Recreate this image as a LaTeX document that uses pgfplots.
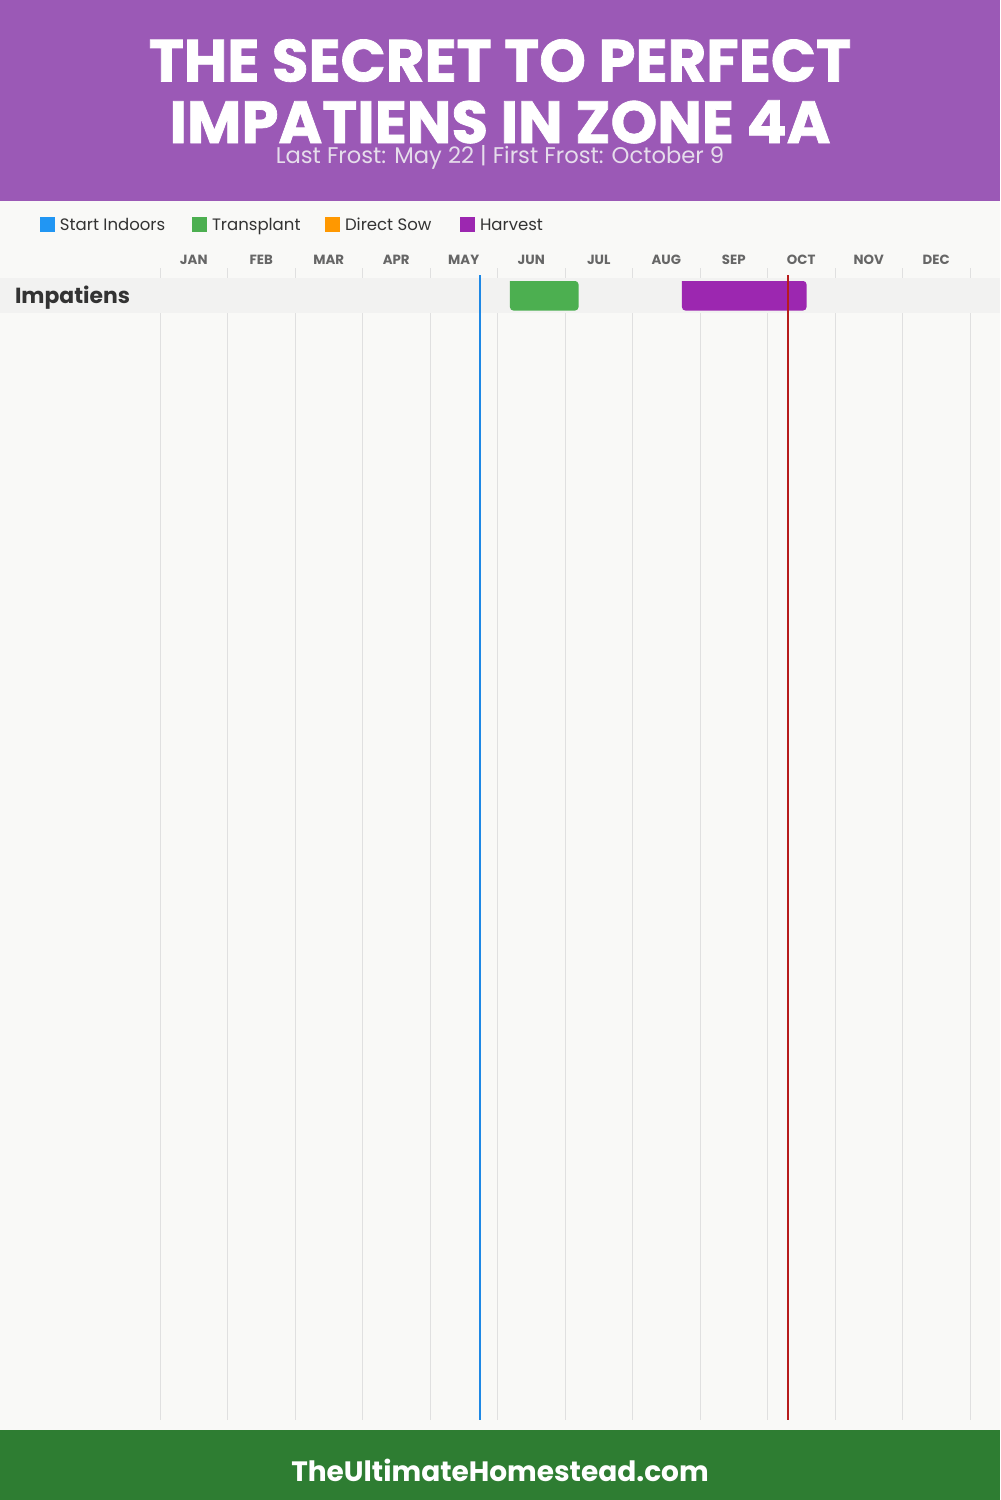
\documentclass[border=0pt]{standalone}
\usepackage{pgfplots}
\pgfplotsset{compat=1.18}
\usepackage{fontspec}
\setmainfont{Poppins}
\newfontfamily\heavy{Poppins}[BoldFeatures={FakeBold=1.2}]
\definecolor{hdr}{HTML}{9B59B6}
\definecolor{ftr}{HTML}{2E7D32}
\definecolor{bgc}{HTML}{F9F9F7}
\definecolor{rowc}{HTML}{F2F2F1}
\definecolor{gridc}{HTML}{E0E0E0}
\definecolor{cstart}{HTML}{2196F3}
\definecolor{ctrans}{HTML}{4CAF50}
\definecolor{csow}{HTML}{FF9800}
\definecolor{charv}{HTML}{9C27B0}
\definecolor{lastf}{HTML}{1E88E5}
\definecolor{firstf}{HTML}{B71C1C}
\definecolor{monthc}{HTML}{666666}
\definecolor{txtc}{HTML}{333333}
\definecolor{subc}{HTML}{E6DDEB}
\tikzset{tx/.style={inner sep=0pt, outer sep=0pt}}
\begin{document}
\begin{tikzpicture}
\begin{axis}[
  scale only axis, width=750pt, height=1125pt,
  xmin=-2.370370, xmax=12.444444, ymin=0, ymax=1500, y dir=reverse,
  axis lines=none, ticks=none, clip=false,
]
% backgrounds
\fill[bgc] (axis cs:-2.370370,0) rectangle (axis cs:12.444444,1500);
\fill[hdr] (axis cs:-2.370370,0) rectangle (axis cs:12.444444,201);
\fill[ftr] (axis cs:-2.370370,1430) rectangle (axis cs:12.444444,1500);
% grid
\pgfplotsinvokeforeach{0,...,12}{\draw[gridc, line width=0.75pt] (axis cs:#1,268) -- (axis cs:#1,1420);}
% row band
\fill[rowc] (axis cs:-2.370370,278) rectangle (axis cs:12.444444,313);
% bars
\addplot[draw=none, fill=ctrans, rounded corners=2.5pt] coordinates {(5.185,281) (6.2,281) (6.2,310.5) (5.185,310.5) (5.185,281)};
\addplot[draw=none, fill=charv, rounded corners=2.5pt] coordinates {(7.733,281) (9.578,281) (9.578,310.5) (7.733,310.5) (7.733,281)};
% frost lines
\addplot[lastf, line width=1.5pt] coordinates {(4.741,275) (4.741,1420)};
\addplot[firstf, line width=1.5pt] coordinates {(9.304,275) (9.304,1420)};
% title
\node[tx, white, anchor=base, font=\fontsize{44.5}{44.5}\selectfont\heavy\bfseries] at (axis cs:5.037,81.5) {THE SECRET TO PERFECT};
\node[tx, white, anchor=base, font=\fontsize{44.5}{44.5}\selectfont\heavy\bfseries] at (axis cs:5.037,143) {IMPATIENS IN ZONE 4A};
\node[tx, subc, anchor=base, font=\fontsize{17}{17}\selectfont] at (axis cs:5.037,163) {Last Frost: May 22 | First Frost: October 9};
% legend
\fill[cstart] (axis cs:-1.7778,217) rectangle (axis cs:-1.5556,232);
\node[tx, txtc, anchor=base west, font=\fontsize{12.4}{12.4}\selectfont] at (axis cs:-1.4815,230.5) {Start Indoors};
\fill[ctrans] (axis cs:0.4741,217) rectangle (axis cs:0.6963,232);
\node[tx, txtc, anchor=base west, font=\fontsize{12.4}{12.4}\selectfont] at (axis cs:0.7704,230.5) {Transplant};
\fill[csow] (axis cs:2.4444,217) rectangle (axis cs:2.6667,232);
\node[tx, txtc, anchor=base west, font=\fontsize{12.4}{12.4}\selectfont] at (axis cs:2.7407,230.5) {Direct Sow};
\fill[charv] (axis cs:4.4444,217) rectangle (axis cs:4.6667,232);
\node[tx, txtc, anchor=base west, font=\fontsize{12.4}{12.4}\selectfont] at (axis cs:4.7407,230.5) {Harvest};
% months
\node[tx, monthc, anchor=base, font=\fontsize{10}{10}\selectfont\bfseries] at (axis cs:0.5,264) {JAN};
\node[tx, monthc, anchor=base, font=\fontsize{10}{10}\selectfont\bfseries] at (axis cs:1.5,264) {FEB};
\node[tx, monthc, anchor=base, font=\fontsize{10}{10}\selectfont\bfseries] at (axis cs:2.5,264) {MAR};
\node[tx, monthc, anchor=base, font=\fontsize{10}{10}\selectfont\bfseries] at (axis cs:3.5,264) {APR};
\node[tx, monthc, anchor=base, font=\fontsize{10}{10}\selectfont\bfseries] at (axis cs:4.5,264) {MAY};
\node[tx, monthc, anchor=base, font=\fontsize{10}{10}\selectfont\bfseries] at (axis cs:5.5,264) {JUN};
\node[tx, monthc, anchor=base, font=\fontsize{10}{10}\selectfont\bfseries] at (axis cs:6.5,264) {JUL};
\node[tx, monthc, anchor=base, font=\fontsize{10}{10}\selectfont\bfseries] at (axis cs:7.5,264) {AUG};
\node[tx, monthc, anchor=base, font=\fontsize{10}{10}\selectfont\bfseries] at (axis cs:8.5,264) {SEP};
\node[tx, monthc, anchor=base, font=\fontsize{10}{10}\selectfont\bfseries] at (axis cs:9.5,264) {OCT};
\node[tx, monthc, anchor=base, font=\fontsize{10}{10}\selectfont\bfseries] at (axis cs:10.5,264) {NOV};
\node[tx, monthc, anchor=base, font=\fontsize{10}{10}\selectfont\bfseries] at (axis cs:11.5,264) {DEC};
% row label
\node[tx, txtc, anchor=base west, font=\fontsize{16.4}{16.4}\selectfont\bfseries] at (axis cs:-2.148,303) {Impatiens};
% footer
\node[tx, white, anchor=base, font=\fontsize{21}{21}\selectfont\bfseries] at (axis cs:5.037,1481) {TheUltimateHomestead.com};
\end{axis}
\end{tikzpicture}
\end{document}
